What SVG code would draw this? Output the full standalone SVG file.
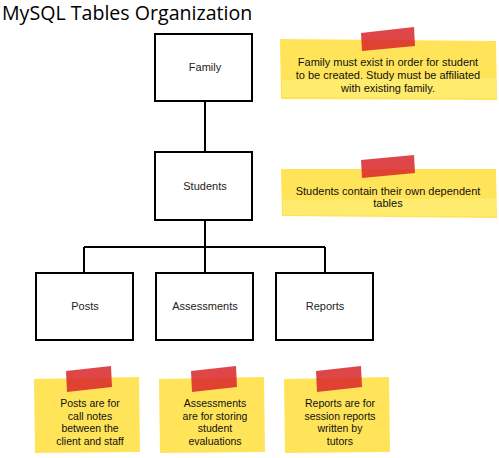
<svg xmlns="http://www.w3.org/2000/svg" width="499" height="458" viewBox="0 0 499 458">
<style>
.box{fill:#fff;stroke:#000;stroke-width:2}
.lbl{font-family:"Liberation Sans",Arial,sans-serif;font-size:11px;fill:#222;text-anchor:middle}
.note{fill:#ffe45a}
.note2{fill:#fff07a;opacity:0.6}
.tape{fill:#d9262a;opacity:0.85}
.nt{font-family:"Liberation Sans",Arial,sans-serif;font-size:10.5px;fill:#111;text-anchor:middle}
.nt11{font-size:11px}
.con{fill:none;stroke:#000;stroke-width:2}
</style>
<rect width="499" height="458" fill="#fff"/>
<text x="2" y="20" font-family="'Open Sans','DejaVu Sans',sans-serif" font-size="19.6" fill="#000">MySQL Tables Organization</text>
<g id="connectors">
<path class="con" d="M205 101V152"/>
<path class="con" d="M205 220V247M84 247H325M84 247V273M205 247V273M325 247V273"/>
</g>
<g id="family"><rect class="box" x="155" y="34" width="97" height="67"/><text class="lbl" x="205" y="71">Family</text></g>
<g id="students"><rect class="box" x="155" y="152" width="97" height="68"/><text class="lbl" x="205" y="190">Students</text></g>
<g id="posts"><rect class="box" x="36" y="273" width="97" height="67"/><text class="lbl" x="85" y="310">Posts</text></g>
<g id="assessments"><rect class="box" x="156" y="273" width="97" height="67"/><text class="lbl" x="205" y="310">Assessments</text></g>
<g id="reports"><rect class="box" x="276" y="273" width="97" height="67"/><text class="lbl" x="325" y="310">Reports</text></g>
<g id="note-family">
<polygon class="note" points="280,39 496,41 497,100 281,99"/>
<polygon class="note2" points="282,80 496,78 496,98 282,97"/>
<polygon class="tape" points="361,33 414,27 415,46 362,51"/>
<text class="nt nt11" x="388" y="66">Family must exist in order for student</text>
<text class="nt nt11" x="388" y="79">to be created. Study must be affiliated</text>
<text class="nt nt11" x="388" y="92">with existing family.</text>
</g>
<g id="note-students">
<polygon class="note" points="281,169 496,169 497,218 282,216"/>
<polygon class="note2" points="283,200 496,198 496,216 283,215"/>
<polygon class="tape" points="361,160 414,155 415,173 362,178"/>
<text class="nt nt11" x="388" y="195">Students contain their own dependent</text>
<text class="nt nt11" x="388" y="207">tables</text>
</g>
<g id="note-posts">
<polygon class="note" points="34,379 139,377 140,452 35,453"/>
<polygon class="tape" points="66,371 111,366 112,387 67,392"/>
<text class="nt" x="90" y="407">Posts are for</text>
<text class="nt" x="90" y="419.5">call notes</text>
<text class="nt" x="90" y="432">between the</text>
<text class="nt" x="90" y="444.5">client and staff</text>
</g>
<g id="note-assessments">
<polygon class="note" points="159,379 264,377 265,452 160,453"/>
<polygon class="tape" points="191,371 236,366 237,387 192,392"/>
<text class="nt" x="215" y="407">Assessments</text>
<text class="nt" x="215" y="419.5">are for storing</text>
<text class="nt" x="215" y="432">student</text>
<text class="nt" x="215" y="444.5">evaluations</text>
</g>
<g id="note-reports">
<polygon class="note" points="284,379 389,377 390,452 285,453"/>
<polygon class="tape" points="316,371 361,366 362,387 317,392"/>
<text class="nt" x="340" y="407">Reports are for</text>
<text class="nt" x="340" y="419.5">session reports</text>
<text class="nt" x="340" y="432">written by</text>
<text class="nt" x="340" y="444.5">tutors</text>
</g>
</svg>
